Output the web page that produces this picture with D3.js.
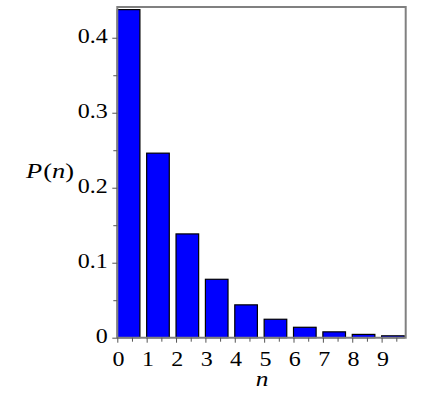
<!DOCTYPE html>
<html><head><meta charset="utf-8">
<script src="https://cdn.jsdelivr.net/npm/d3@7"></script>
<style>body{margin:0;background:#fff}svg{display:block}</style>
</head><body>
<svg id="c" width="447" height="395"></svg>
<script>
const categories = [0,1,2,3,4,5,6,7,8,9];
const values = [0.4375,0.2461,0.1384,0.0779,0.0438,0.0246,0.0139,0.0078,0.0044,0.0025];
const yTicks = [0,0.1,0.2,0.3,0.4];
const yTickLabels = ["0","0.1","0.2","0.3","0.4"];
const xTickLabels = ["0","1","2","3","4","5","6","7","8","9"];
const xLabel = "n";

const svg = d3.select("#c");
const L=117.3, R=405.7, T=7, B=337.7;
const x = d3.scaleLinear().domain([0,9.82]).range([L,R]);
const y = d3.scaleLinear().domain([0,0.441]).range([B,T]);
const font = '"Liberation Serif","Times New Roman",serif';
const bw = 0.77;
const SX = 1.2;

// bars
svg.append("g").selectAll("rect").data(categories).join("rect")
  .attr("x", d=>x(d)).attr("width", x(bw)-x(0))
  .attr("y", (d,i)=>y(values[i])).attr("height",(d,i)=>y(0)-y(values[i]))
  .attr("fill","#0000ff").attr("stroke","#000").attr("stroke-width",1.2);

// frame
svg.append("path").attr("d",`M${L},${B}V${T}H${R}V${B}H${L}`)
  .attr("fill","none").attr("stroke","#808080").attr("stroke-width",2);

// y axis
const yAxis = d3.axisLeft(y).tickValues(yTicks).tickFormat((d,i)=>yTickLabels[i]).tickSize(5);
const gy = svg.append("g").attr("transform",`translate(${L},0)`).call(yAxis);
gy.select(".domain").remove();
gy.selectAll("line").attr("stroke","#555");
gy.selectAll("text").attr("x",0).attr("dy",null).attr("dominant-baseline",null)
  .attr("transform",`translate(-9.5,5) scale(${SX},1)`)
  .style("font-family",font).style("font-size","20px").attr("fill","#000");
const yMinor = d3.axisLeft(y).tickValues([0.05,0.15,0.25,0.35]).tickSize(4).tickFormat("");
const gym = svg.append("g").attr("transform",`translate(${L},0)`).call(yMinor);
gym.select(".domain").remove(); gym.selectAll("line").attr("stroke","#555");

// x axis
const xAxis = d3.axisBottom(x).tickValues(categories).tickFormat((d,i)=>xTickLabels[i]).tickSize(5);
const gx = svg.append("g").attr("transform",`translate(0,${B})`).call(xAxis);
gx.select(".domain").remove();
gx.selectAll("line").attr("stroke","#555");
gx.selectAll("text").attr("y",0).attr("dy",null)
  .attr("transform",`translate(0.8,27.8) scale(${SX},1)`)
  .style("font-family",font).style("font-size","20px").attr("fill","#000");
const xMinor = d3.axisBottom(x).tickValues(categories.map(d=>d+0.5)).tickSize(4).tickFormat("");
const gxm = svg.append("g").attr("transform",`translate(0,${B})`).call(xMinor);
gxm.select(".domain").remove(); gxm.selectAll("line").attr("stroke","#555");

// axis labels
svg.append("text").attr("text-anchor","middle")
  .attr("transform",`translate(${x(4.93)},386) scale(1.15,1)`)
  .style("font-family",font).style("font-size","22px").attr("font-style","italic").text(xLabel);
const pl = svg.append("text").attr("transform",`translate(26,178) scale(${SX},1)`)
  .style("font-family",font).style("font-size","22px");
pl.append("tspan").attr("font-style","italic").text("P");
pl.append("tspan").attr("dx",1).text("(");
pl.append("tspan").attr("font-style","italic").text("n");
pl.append("tspan").text(")");
</script>
</body></html>
